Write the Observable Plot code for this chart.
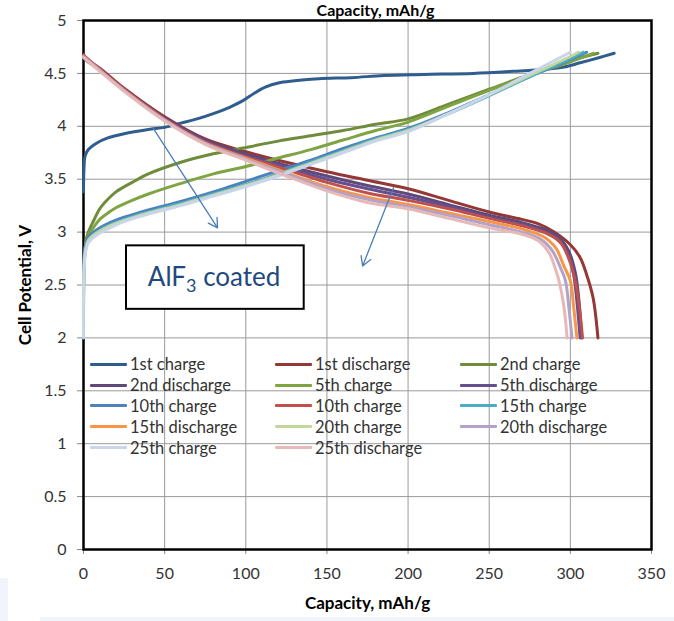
<!DOCTYPE html>
<html>
<head>
<meta charset="utf-8">
<script src="https://cdn.jsdelivr.net/npm/d3@7"></script>
<script src="https://cdn.jsdelivr.net/npm/@observablehq/plot@0.6"></script>
<style>
  html, body { margin: 0; padding: 0; background: #fff; }
  #wrap { position: relative; width: 674px; height: 621px; overflow: hidden; font-family: Lato, "Open Sans", sans-serif; }
  #legend { position: absolute; left: 90px; top: 354px; display: grid; grid-template-columns: 185px 185px 185px; grid-auto-rows: 20.8px; }
  .item { display: flex; align-items: center; font-size: 16.5px; color: #333; white-space: nowrap; }
  .sw { width: 37px; height: 3px; margin-right: 3px; border-radius: 1px; }
  .band { position: absolute; background: #f1f5fb; }
</style>
</head>
<body>
<div id="wrap"></div>
<script>
// ---- data (capacity mAh/g, cell potential V) ----
const names = ["1st charge","1st discharge","2nd charge","2nd discharge","5th charge","5th discharge",
               "10th charge","10th charge","15th charge","15th discharge","20th charge","20th discharge",
               "25th charge","25th discharge"];
const colors = ["#2F5D8E","#953735","#6F8C3A","#5F497A","#7EA443","#65508F",
                "#4F81BD","#C0504D","#4BACC6","#F79646","#C3D69B","#B3A2C7",
                "#C8D5EA","#E6B9B8"];

const charge1 = [[0,3.38],[0.3,3.6],[1,3.72],[3,3.78],[8,3.84],[15,3.89],[25,3.93],[40,3.97],[50,3.99],[60,4.03],[70,4.07],[80,4.12],[90,4.18],[98,4.24],[105,4.31],[112,4.37],[120,4.41],[130,4.43],[145,4.45],[165,4.46],[185,4.48],[210,4.49],[240,4.5],[265,4.52],[285,4.54],[296,4.56],[306,4.6],[318,4.65],[327,4.69]];
const discharge1 = [[0,4.68],[2,4.63],[10,4.55],[25,4.36],[50,4.09],[75,3.88],[100,3.76],[125,3.66],[150,3.57],[175,3.49],[200,3.41],[225,3.3],[250,3.19],[270,3.12],[280,3.08],[290,3.0],[300,2.88],[306,2.76],[310,2.6],[314,2.38],[317,2.0]];
const charge2 = [[0,2.2],[0.5,2.7],[1.5,2.92],[3,3.0],[6,3.1],[10,3.22],[15,3.31],[20,3.38],[30,3.47],[40,3.55],[60,3.66],[80,3.74],[100,3.8],[120,3.86],[140,3.91],[160,3.96],[180,4.02],[200,4.07],[225,4.21],[250,4.35],[275,4.49],[300,4.62],[317,4.69]];
const discharge2 = [[0,4.67],[2,4.62],[10,4.54],[25,4.35],[50,4.08],[75,3.87],[100,3.74],[125,3.63],[150,3.53],[175,3.44],[200,3.36],[225,3.26],[250,3.16],[270,3.09],[285,3.02],[293,2.95],[299,2.82],[303,2.62],[305,2.4],[307,2.0]];
const charge5 = [[0,2.5],[1,2.85],[3,2.97],[6,3.04],[10,3.12],[15,3.18],[20,3.23],[30,3.3],[40,3.36],[60,3.46],[80,3.55],[100,3.62],[120,3.7],[140,3.78],[160,3.87],[180,3.96],[200,4.04],[225,4.19],[250,4.34],[275,4.48],[300,4.61],[314,4.69]];
const discharge5 = [[0,4.67],[10,4.54],[25,4.35],[50,4.07],[75,3.86],[100,3.72],[125,3.61],[150,3.5],[175,3.41],[200,3.33],[225,3.24],[250,3.14],[270,3.07],[285,3.0],[293,2.92],[299,2.78],[302,2.6],[304,2.35],[306,2.0]];
const charge10 = [[0,2.6],[1,2.85],[3,2.95],[8,3.02],[15,3.08],[25,3.14],[40,3.21],[60,3.29],[80,3.38],[100,3.48],[120,3.58],[140,3.68],[160,3.79],[180,3.89],[200,3.98],[225,4.13],[250,4.3],[275,4.47],[300,4.63],[310,4.7]];
const discharge10 = [[0,4.67],[10,4.54],[25,4.35],[50,4.07],[75,3.85],[100,3.71],[125,3.59],[150,3.47],[175,3.37],[200,3.3],[225,3.22],[250,3.13],[270,3.06],[285,2.99],[294,2.9],[299,2.75],[303,2.54],[305.5,2.3],[307.5,2.0]];
const charge15 = [[0,2.4],[1,2.82],[3,2.93],[8,3.0],[15,3.06],[25,3.12],[40,3.19],[60,3.27],[80,3.36],[100,3.45],[120,3.55],[140,3.66],[160,3.77],[180,3.88],[200,3.97],[225,4.12],[250,4.29],[275,4.47],[300,4.64],[308,4.7]];
const discharge15 = [[0,4.66],[10,4.53],[25,4.34],[50,4.06],[75,3.84],[100,3.7],[125,3.56],[150,3.43],[175,3.33],[200,3.26],[225,3.18],[250,3.1],[270,3.03],[283,2.96],[291,2.85],[296,2.68],[300,2.54],[302,2.3],[304,2.0]];
const charge20 = [[0,2.3],[1,2.8],[3,2.92],[8,2.99],[15,3.05],[25,3.11],[40,3.18],[60,3.26],[80,3.35],[100,3.44],[120,3.54],[140,3.65],[160,3.76],[180,3.87],[200,3.96],[225,4.12],[250,4.3],[275,4.48],[300,4.66],[305,4.7]];
const discharge20 = [[0,4.66],[10,4.53],[25,4.34],[50,4.06],[75,3.84],[100,3.69],[125,3.55],[150,3.41],[175,3.31],[200,3.24],[225,3.16],[250,3.07],[270,3.0],[282,2.93],[289,2.82],[294,2.66],[297,2.54],[299,2.3],[301,2.0]];
const charge25 = [[0,2.0],[1,2.78],[3,2.9],[8,2.97],[15,3.03],[25,3.1],[40,3.17],[60,3.25],[80,3.34],[100,3.43],[120,3.53],[140,3.64],[160,3.75],[180,3.86],[200,3.95],[225,4.12],[250,4.3],[275,4.5],[300,4.7]];
const discharge25 = [[0,4.65],[10,4.52],[25,4.33],[50,4.05],[75,3.83],[100,3.68],[125,3.53],[150,3.39],[175,3.28],[200,3.22],[225,3.13],[250,3.04],[270,2.98],[280,2.92],[287,2.8],[291,2.64],[293,2.54],[296,2.3],[298,2.0]];

const curves = [charge1, discharge1, charge2, discharge2, charge5, discharge5,
                charge10, discharge10, charge15, discharge15, charge20, discharge20,
                charge25, discharge25];

const xTicks = [0,50,100,150,200,250,300,350];
const yTicks = [0,0.5,1,1.5,2,2.5,3,3.5,4,4.5,5];

// annotations
const arrowStarts = [[43,3.98],[191,3.42]];
const arrowEnds = [[82.6,3.04],[172,2.68]];
const noteBox = [[26.5,136,2.87,2.27]];
const noteText = [["AlF3 coated",80.5,2.57]];

const xTitle = "Capacity, mAh/g";
const yTitle = "Cell Potential, V";

// ---- chart ----
const arrows = arrowStarts.map((s,i) => ({x1:s[0], y1:s[1], x2:arrowEnds[i][0], y2:arrowEnds[i][1]}));

const chart = Plot.plot({
  width: 674, height: 621,
  marginLeft: 83, marginRight: 23, marginTop: 20, marginBottom: 72,
  style: {fontFamily: "Lato, 'Open Sans', sans-serif", fontSize: "15px", background: "transparent", overflow: "visible"},
  x: {domain: [0,350]},
  y: {domain: [0,5]},
  marks: [
    Plot.gridX(xTicks, {stroke: "#9a9a9a", strokeOpacity: 1, strokeWidth: 1}),
    Plot.gridY(yTicks, {stroke: "#9a9a9a", strokeOpacity: 1, strokeWidth: 1}),
    Plot.axisX(xTicks, {tickSize: 5, tickPadding: 13, stroke: "#888", fill: "#333", fontSize: 16, label: null, tickFormat: d => String(d)}),
    Plot.axisY(yTicks, {tickSize: 6, tickPadding: 11, stroke: "#888", fill: "#333", fontSize: 16, label: null, tickFormat: d => String(d)}),
    Plot.frame({stroke: "#000", strokeWidth: 2.5}),
    ...curves.map((c,i) => Plot.line(c, {x: d => d[0], y: d => d[1], stroke: colors[i], strokeWidth: 3, curve: "catmull-rom"})),
    Plot.arrow(arrows, {x1: "x1", y1: "y1", x2: "x2", y2: "y2", stroke: "#4A7EBB", strokeWidth: 1.3, headLength: 12}),
    Plot.rect(noteBox, {x1: d => d[0], x2: d => d[1], y1: d => d[2], y2: d => d[3], fill: "#fff", stroke: "#000", strokeWidth: 2}),
    Plot.text(noteText, {x: d => d[1], y: d => d[2], text: d => d[0], fill: "#1F497D", fontSize: 26, lineAnchor: "middle", textAnchor: "middle"}),
    Plot.text([xTitle], {frameAnchor: "bottom", dx: 0, dy: 54, lineAnchor: "middle", textAnchor: "middle", fontWeight: "bold", fontSize: 17, fill: "#000"}),
    Plot.text([yTitle], {frameAnchor: "left", dx: -58, rotate: -90, lineAnchor: "middle", textAnchor: "middle", fontWeight: "bold", fontSize: 17, fill: "#000"}),
    Plot.text([xTitle], {frameAnchor: "top", dx: 8, dy: -10, lineAnchor: "middle", textAnchor: "middle", fontWeight: "bold", fontSize: 16, fill: "#000"})
  ]
});

const wrap = document.getElementById("wrap");
wrap.appendChild(chart);

// subscript the 3 in AlF3
chart.querySelectorAll("text").forEach(t => {
  if (t.textContent === "AlF3 coated") {
    t.textContent = "";
    const ns = "http://www.w3.org/2000/svg";
    const a = document.createElementNS(ns, "tspan"); a.textContent = "AlF";
    const b = document.createElementNS(ns, "tspan"); b.textContent = "3"; b.setAttribute("font-size", "18"); b.setAttribute("dy", "6");
    const c = document.createElementNS(ns, "tspan"); c.textContent = " coated"; c.setAttribute("dy", "-6");
    t.append(a, b, c);
  }
});

// legend inside plot area
const legend = document.createElement("div");
legend.id = "legend";
names.forEach((n,i) => {
  const it = document.createElement("div"); it.className = "item";
  const sw = document.createElement("span"); sw.className = "sw"; sw.style.background = colors[i];
  const tx = document.createElement("span"); tx.textContent = n;
  it.append(sw, tx); legend.appendChild(it);
});
wrap.appendChild(legend);

// pale bands at the bottom edge
const b1 = document.createElement("div"); b1.className = "band";
Object.assign(b1.style, {left: "0px", top: "578px", width: "8px", height: "43px"});
const b2 = document.createElement("div"); b2.className = "band";
Object.assign(b2.style, {left: "40px", top: "617px", width: "634px", height: "4px"});
wrap.append(b1, b2);
chart.style.position = "absolute"; chart.style.left = "0"; chart.style.top = "0";
</script>
</body>
</html>
